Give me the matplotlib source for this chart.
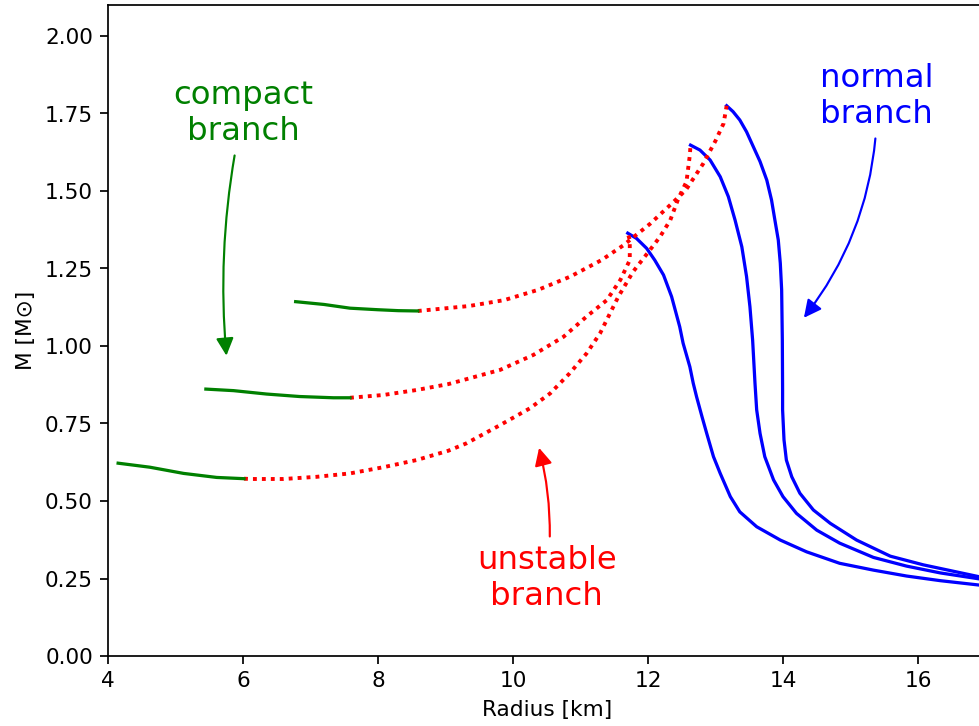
import matplotlib as mpl

mpl.use("Agg")
import matplotlib.pyplot as plt  # noqa: E402

DPI = 155.5

# normal branches (radius km, mass Msun)
r_norm1 = [11.70, 11.83, 11.98, 12.10, 12.23, 12.35, 12.47, 12.52, 12.62, 12.67,
           12.72, 12.80, 12.87, 12.97, 13.07, 13.22, 13.36, 13.61, 13.96, 14.35,
           14.84, 15.34, 15.83, 16.33, 16.90, 17.10]
m_norm1 = [1.364, 1.347, 1.315, 1.277, 1.229, 1.159, 1.062, 1.009, 0.933, 0.880,
           0.836, 0.772, 0.718, 0.643, 0.589, 0.514, 0.465, 0.417, 0.374, 0.336,
           0.299, 0.277, 0.258, 0.243, 0.229, 0.225]
r_norm2 = [12.63, 12.77, 12.92, 13.07, 13.19, 13.29, 13.39, 13.46, 13.51, 13.55,
           13.585, 13.61, 13.66, 13.73, 13.86, 14.00, 14.20, 14.50, 14.84, 15.34,
           15.83, 16.33, 16.90, 17.10]
m_norm2 = [1.648, 1.632, 1.600, 1.546, 1.482, 1.406, 1.320, 1.224, 1.127, 1.019,
           0.880, 0.794, 0.718, 0.643, 0.568, 0.514, 0.460, 0.406, 0.364, 0.318,
           0.290, 0.268, 0.249, 0.244]
r_norm3 = [13.165, 13.26, 13.36, 13.46, 13.56, 13.66, 13.76, 13.83, 13.88, 13.93,
           13.96, 13.98, 13.99, 13.994, 13.994, 14.015, 14.05, 14.13, 14.25, 14.45,
           14.70, 15.09, 15.59, 16.08, 16.90, 17.10]
m_norm3 = [1.775, 1.756, 1.729, 1.691, 1.643, 1.595, 1.535, 1.471, 1.406, 1.342,
           1.267, 1.181, 1.019, 0.858, 0.794, 0.697, 0.632, 0.578, 0.525, 0.471,
           0.428, 0.374, 0.322, 0.294, 0.256, 0.250]

# unstable branches
r_unst1 = [8.59, 8.83, 9.35, 9.87, 10.37, 10.85, 11.31, 11.63, 12.03, 12.33,
           12.56, 12.82, 13.00, 13.12, 13.165]
m_unst1 = [1.113, 1.118, 1.129, 1.148, 1.181, 1.224, 1.277, 1.324, 1.394, 1.455,
           1.503, 1.589, 1.662, 1.718, 1.775]
r_unst2 = [7.585, 8.08, 8.57, 9.04, 9.31, 9.81, 10.30, 10.75, 11.09, 11.39,
           11.59, 11.73, 11.73, 11.70]
m_unst2 = [0.833, 0.842, 0.858, 0.877, 0.893, 0.923, 0.971, 1.030, 1.095, 1.148,
           1.213, 1.277, 1.342, 1.364]
r_unst3 = [6.015, 6.10, 6.60, 7.09, 7.585, 8.08, 8.57, 9.04, 9.31, 9.81, 10.25,
           10.55, 10.84, 11.09, 11.29, 11.56, 11.78, 12.03, 12.18, 12.33, 12.45,
           12.57, 12.62, 12.63]
m_unst3 = [0.572, 0.571, 0.571, 0.578, 0.589, 0.609, 0.632, 0.662, 0.686, 0.745,
           0.799, 0.847, 0.912, 0.976, 1.041, 1.159, 1.240, 1.310, 1.353, 1.406,
           1.476, 1.530, 1.616, 1.648]

# compact branches
r_comp1 = [6.78, 7.20, 7.585, 8.00, 8.30, 8.59]
m_comp1 = [1.143, 1.134, 1.122, 1.117, 1.114, 1.113]
r_comp2 = [5.45, 5.86, 6.35, 6.84, 7.34, 7.585]
m_comp2 = [0.861, 0.856, 0.845, 0.837, 0.833, 0.833]
r_comp3 = [4.15, 4.62, 5.12, 5.61, 6.015]
m_comp3 = [0.622, 0.609, 0.589, 0.576, 0.572]

fig = plt.figure(figsize=(979 / DPI, 726 / DPI), dpi=DPI)
ax = fig.add_axes([108 / 979, 70 / 726, 877.5 / 979, 651 / 726])

lw = 1.5
for r, m in [(r_norm1, m_norm1), (r_norm2, m_norm2), (r_norm3, m_norm3)]:
    ax.plot(r, m, color="blue", lw=lw)
for r, m in [(r_unst1, m_unst1), (r_unst2, m_unst2), (r_unst3, m_unst3)]:
    ax.plot(r, m, color="red", lw=1.8, ls=(0, (1, 1.3)))
for r, m in [(r_comp1, m_comp1), (r_comp2, m_comp2), (r_comp3, m_comp3)]:
    ax.plot(r, m, color="green", lw=lw)

arrow = dict(arrowstyle="-|>", lw=1.0, mutation_scale=17)
ax.annotate("compact\nbranch", xy=(5.76, 0.955), xytext=(6.0, 1.75),
            ha="center", va="center", fontsize=15, color="green",
            arrowprops=dict(arrow, color="green", connectionstyle="arc3,rad=0.08"))
ax.annotate("normal\nbranch", xy=(14.27, 1.08), xytext=(15.39, 1.805),
            ha="center", va="center", fontsize=15, color="blue",
            arrowprops=dict(arrow, color="blue", connectionstyle="arc3,rad=-0.18"))
ax.annotate("unstable\nbranch", xy=(10.37, 0.685), xytext=(10.5, 0.25),
            ha="center", va="center", fontsize=15, color="red",
            arrowprops=dict(arrow, color="red", connectionstyle="arc3,rad=0.1"))

ax.set_xlim(4, 17)
ax.set_ylim(0, 2.1)
ax.set_xticks([4, 6, 8, 10, 12, 14, 16])
ax.set_xlabel("Radius [km]")
ax.set_ylabel("M [M\u2299]")

fig.savefig("out.png", dpi=DPI)
